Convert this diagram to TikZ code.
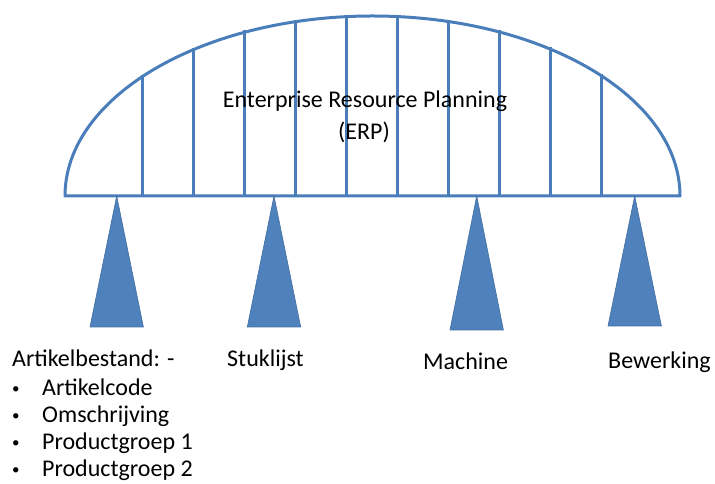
\documentclass[tikz,border=0pt]{standalone}
\usepackage{fontspec}
\setmainfont{Carlito}
\usetikzlibrary{positioning}
\definecolor{Frame}{RGB}{74,126,187}
\definecolor{Pillar}{RGB}{79,129,189}

\begin{document}
\begin{tikzpicture}[x=1pt,y=1pt,
    txt/.style={inner sep=0pt, font=\fontsize{24}{28}\selectfont},
    pillar/.style={fill=Pillar, draw=Pillar!85!black, line width=0.6pt}]
  \useasboundingbox (0,0) rectangle (715,484);

  % the dome with its ribs
  \draw[Frame, line width=3pt, line join=round] (65,288) arc[start angle=180, end angle=0, x radius=307.5, y radius=180] -- cycle;
  \foreach \i in {0,...,9}{
    \pgfmathsetmacro\rx{142+\i*51.1}
    \pgfmathsetmacro\ry{288+180*sqrt(1-((\rx-372.5)/307.5)^2)+2}
    \draw[Frame, line width=3pt] (\rx,288) -- (\rx,\ry);
  }
  \node[txt, anchor=base] (erp) at (365,376) {Enterprise Resource Planning};
  \node[txt, anchor=base] (erpkort) at (364,344) {(ERP)};

  % pillars
  \foreach \cx/\by/\nm in {116.7/157/art, 274/157/stuk, 476.7/154/mach, 634.7/158/bew}{
    \coordinate (top-\nm) at (\cx,288);
    \draw[pillar] (\cx-26.7,\by) -- (top-\nm) -- (\cx+26.7,\by) -- cycle;
  }

  % labels under the pillars
  \node[txt, anchor=base west] (art) at (12,117) {Artikelbestand: -};
  \node[txt, anchor=base west] (stuk) at (227,117) {Stuklijst};
  \node[txt, anchor=base west] (mach) at (423,114) {Machine};
  \node[txt, anchor=base west] (bew) at (608,115) {Bewerking};

  \foreach \y/\item [count=\n] in {88/Artikelcode, 61/Omschrijving, 34/Productgroep 1, 7/Productgroep 2}{
    \node[txt, font=\fontsize{15}{18}\selectfont, anchor=base west] (dot\n) at (12,\y+2) {•};
    \node[txt, anchor=base west] (item\n) at (42,\y) {\item};
  }
\end{tikzpicture}
\end{document}
